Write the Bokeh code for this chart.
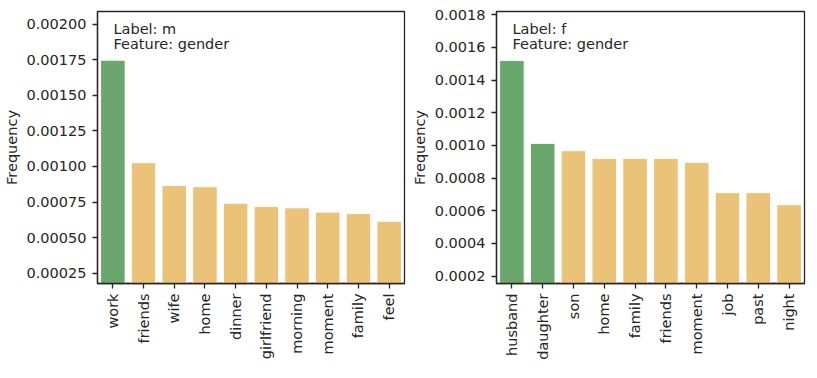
import math
from bokeh.plotting import figure
from bokeh.models import FactorRange, Range1d, FixedTicker, NumeralTickFormatter, Label, ColumnDataSource
from bokeh.layouts import row
from bokeh.embed import file_html
from bokeh.resources import INLINE

# ---- data ----
m_words = ["work", "friends", "wife", "home", "dinner", "girlfriend", "morning", "moment", "family", "feel"]
m_freq = [0.001748, 0.001027, 0.000867, 0.000858, 0.000742, 0.000719, 0.000709, 0.000679, 0.000669, 0.000615]
m_highlight = [True, False, False, False, False, False, False, False, False, False]
m_ticks = [0.00025, 0.0005, 0.00075, 0.001, 0.00125, 0.0015, 0.00175, 0.002]

f_words = ["husband", "daughter", "son", "home", "family", "friends", "moment", "job", "past", "night"]
f_freq = [0.00152, 0.001013, 0.000968, 0.000921, 0.000921, 0.000921, 0.000897, 0.000711, 0.000711, 0.000637]
f_highlight = [True, True, False, False, False, False, False, False, False, False]
f_ticks = [0.0002, 0.0004, 0.0006, 0.0008, 0.001, 0.0012, 0.0014, 0.0016, 0.0018]

GREEN = "#6aa76d"
ORANGE = "#ebc378"
TXT = "#262626"
FONT = "DejaVu Sans"
FS = "14.5px"


def make_panel(words, freq, hl, ticks, fmt, yr, label, width, border_left, border_right):
    colors = [GREEN if h else ORANGE for h in hl]
    src = ColumnDataSource(dict(x=words, top=freq, color=colors))
    p = figure(x_range=FactorRange(*words), y_range=Range1d(*yr),
               width=width, height=362, output_backend="svg", toolbar_location=None,
               min_border_left=border_left, min_border_right=border_right,
               min_border_top=11, min_border_bottom=10)
    p.vbar(x="x", top="top", bottom=yr[0], width=0.8, source=src,
           fill_color="color", line_color="white", line_width=1)
    p.xgrid.visible = False
    p.ygrid.visible = False
    p.outline_line_color = TXT
    p.outline_line_width = 1.3
    p.x_range.range_padding = 0
    p.x_range.group_padding = 0
    p.yaxis.ticker = FixedTicker(ticks=ticks)
    p.yaxis.formatter = NumeralTickFormatter(format=fmt)
    p.yaxis.axis_label = "Frequency"
    p.yaxis.axis_label_text_font_style = "normal"
    p.yaxis.axis_label_standoff = 4
    for ax in (p.xaxis[0], p.yaxis[0]):
        ax.major_label_text_font = FONT
        ax.major_label_text_font_size = FS
        ax.major_label_text_color = TXT
        ax.axis_label_text_font = FONT
        ax.axis_label_text_font_size = FS
        ax.axis_label_text_color = TXT
        ax.axis_line_color = TXT
        ax.axis_line_width = 1.3
        ax.major_tick_line_color = TXT
        ax.major_tick_line_width = 1.3
        ax.major_tick_out = 5
        ax.major_tick_in = 0
        ax.minor_tick_line_color = None
    p.yaxis.major_label_standoff = 6
    p.xaxis.major_label_orientation = math.pi / 2
    p.xaxis.major_label_standoff = 5
    span = yr[1] - yr[0]
    for i, t in enumerate(label):
        p.add_layout(Label(x=0.52, y=yr[1] - span * (0.065 + 0.056 * i), text=t,
                           text_font=FONT, text_font_size=FS,
                           text_color=TXT, text_baseline="alphabetic"))
    return p


p1 = make_panel(m_words, m_freq, m_highlight, m_ticks, "0.00000", (0.000177, 0.00209),
                ["Label: m", "Feature: gender"], 408, 96, 4)
p2 = make_panel(f_words, f_freq, f_highlight, f_ticks, "0.0000", (0.000155, 0.00182),
                ["Label: f", "Feature: gender"], 398, 88, 2)

layout = row(p1, p2)
open("out.html", "w").write(file_html(layout, INLINE))
